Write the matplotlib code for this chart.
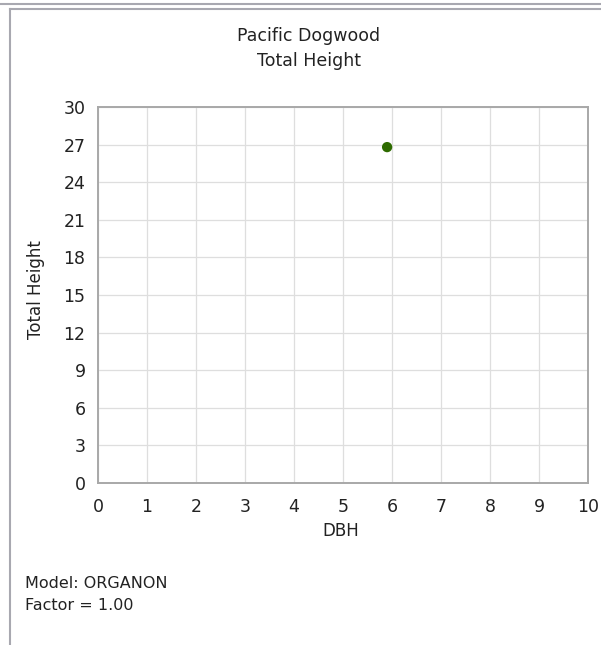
import matplotlib
matplotlib.use("Agg")
import matplotlib.pyplot as plt
from matplotlib.lines import Line2D

dbh = [5.9]
height = [26.8]
x_ticks = list(range(0, 11))
y_ticks = list(range(0, 31, 3))
title_lines = ["Pacific Dogwood", "Total Height"]
x_label = "DBH"
y_label = "Total Height"
notes = ["Model: ORGANON", "Factor = 1.00"]

W, H = 601, 645
fig = plt.figure(figsize=(W/100, H/100), dpi=100)
fig.patch.set_facecolor("white")
plt.rcParams['font.family'] = ['DejaVu Sans']
txt = "#222222"

# panel borders
fig.add_artist(Line2D([0, 1], [1-3.5/H, 1-3.5/H], color="#a8a8b0", lw=1.5, transform=fig.transFigure))
fig.add_artist(Line2D([10.5/W, 1], [1-8.5/H, 1-8.5/H], color="#a8a8b0", lw=1.5, transform=fig.transFigure))
fig.add_artist(Line2D([10.5/W, 10.5/W], [0, 1-8.5/H], color="#a8a8b0", lw=1.5, transform=fig.transFigure))

ax = fig.add_axes([98/W, (H-483)/H, 490/W, 376/H])
ax.set_xlim(0, 10)
ax.set_ylim(0, 30)
ax.set_xticks(x_ticks)
ax.set_yticks(y_ticks)
ax.grid(True, color="#dedede", lw=0.9)
ax.set_axisbelow(True)
for s in ax.spines.values():
    s.set_color("#a8a8a8")
    s.set_linewidth(1.4)
ax.tick_params(axis="x", length=0, labelsize=12.5, colors=txt, pad=11)
ax.tick_params(axis="y", length=0, labelsize=12.5, colors=txt, pad=9)
ax.scatter(dbh, height, s=55, color="#2e6b00", zorder=3, edgecolors="none")

fig.text(341/W, 1-531/H, x_label, ha="center", va="center", fontsize=12, color=txt)
fig.text(36/W, 1-290/H, y_label, ha="center", va="center", rotation=90, fontsize=12, color=txt)

fig.text(309/W, 1-36/H, title_lines[0], ha="center", va="center", fontsize=12.5, color=txt)
fig.text(309/W, 1-61/H, title_lines[1], ha="center", va="center", fontsize=12.5, color=txt)
fig.text(25/W, 1-583/H, notes[0], ha="left", va="center", fontsize=11.5, color=txt)
fig.text(25/W, 1-605/H, notes[1], ha="left", va="center", fontsize=11.5, color=txt)

fig.savefig("out.png", dpi=100, facecolor="white")
